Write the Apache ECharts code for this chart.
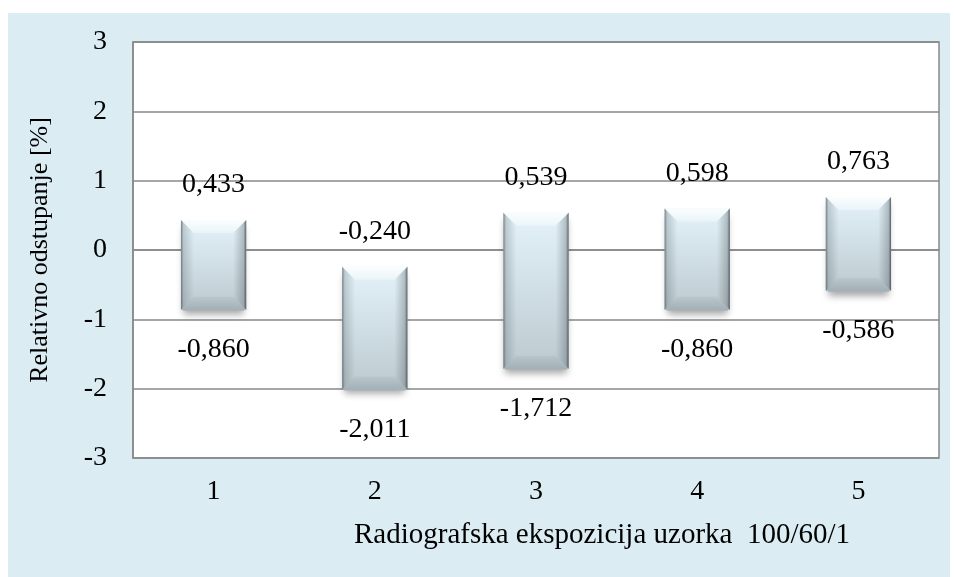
<!DOCTYPE html>
<html>
<head>
<meta charset="utf-8">
<script src="https://cdn.jsdelivr.net/npm/echarts@6/dist/echarts.min.js"></script>
<style>
  html, body { margin: 0; padding: 0; background: #ffffff; }
  #chart { width: 954px; height: 577px; }
</style>
</head>
<body>
<div id="chart"></div>
<script>
// Exposure samples and the min / max relative deviation per sample
const categories = ['1', '2', '3', '4', '5'];
const highValues = [0.433, -0.240, 0.539, 0.598, 0.763];
const lowValues = [-0.860, -2.011, -1.712, -0.860, -0.586];
const yTicks = { min: -3, max: 3, step: 1 };

const FONT = '"Liberation Serif", "Times New Roman", serif';
const fmt = v => v.toFixed(3).replace('.', ',');

const rangeData = categories.map((c, i) => [i, lowValues[i], highValues[i]]);

function renderRange(params, api) {
  const idx = api.value(0);
  const lo = api.value(1);
  const hi = api.value(2);
  const pTop = api.coord([idx, hi]);
  const pBot = api.coord([idx, lo]);
  const bw = api.size([1, 0])[0] * 0.405;
  const x0 = pTop[0] - bw / 2, x1 = pTop[0] + bw / 2;
  const y0 = pTop[1], y1 = pBot[1];
  const h = y1 - y0;
  const b = Math.min(13, h / 2, bw / 2);
  const lin = (a, c, d, e, stops) => new echarts.graphic.LinearGradient(a, c, d, e, stops);

  return {
    type: 'group',
    children: [
      // soft drop shadow under the block
      {
        type: 'rect',
        shape: { x: x0 + 2, y: y0 + 3, width: bw - 4, height: h - 2 },
        style: { fill: '#a7b2b6', shadowBlur: 7, shadowColor: 'rgba(0,0,0,0.35)', shadowOffsetY: 4 },
        z2: 1
      },
      // front face
      {
        type: 'rect',
        shape: { x: x0, y: y0, width: bw, height: h },
        style: { fill: lin(0, 0, 0, 1, [
          { offset: 0, color: '#e3f3f9' },
          { offset: 1, color: '#bccad0' }
        ]) },
        z2: 2
      },
      // top bevel (highlight)
      {
        type: 'polygon',
        shape: { points: [[x0, y0], [x1, y0], [x1 - b, y0 + b], [x0 + b, y0 + b]] },
        style: { fill: lin(0, 0, 0, 1, [
          { offset: 0, color: 'rgba(255,255,255,0.85)' },
          { offset: 1, color: 'rgba(255,255,255,0.35)' }
        ]) },
        z2: 3
      },
      // bottom bevel (shade)
      {
        type: 'polygon',
        shape: { points: [[x0, y1], [x1, y1], [x1 - b, y1 - b], [x0 + b, y1 - b]] },
        style: { fill: lin(0, 0, 0, 1, [
          { offset: 0, color: 'rgba(70,85,92,0.06)' },
          { offset: 1, color: 'rgba(70,85,92,0.22)' }
        ]) },
        z2: 3
      },
      // left bevel
      {
        type: 'polygon',
        shape: { points: [[x0, y0], [x0 + b, y0 + b], [x0 + b, y1 - b], [x0, y1]] },
        style: { fill: lin(0, 0, 1, 0, [
          { offset: 0, color: 'rgba(60,70,76,0.65)' },
          { offset: 0.2, color: 'rgba(60,70,76,0.22)' },
          { offset: 1, color: 'rgba(60,70,76,0.0)' }
        ]) },
        z2: 3
      },
      // right bevel
      {
        type: 'polygon',
        shape: { points: [[x1, y0], [x1 - b, y0 + b], [x1 - b, y1 - b], [x1, y1]] },
        style: { fill: lin(1, 0, 0, 0, [
          { offset: 0, color: 'rgba(50,58,64,0.78)' },
          { offset: 0.2, color: 'rgba(50,58,64,0.28)' },
          { offset: 1, color: 'rgba(50,58,64,0.0)' }
        ]) },
        z2: 3
      },
      // value labels
      {
        type: 'text',
        style: { text: fmt(hi), x: pTop[0], y: y0 - 35, align: 'center', verticalAlign: 'middle',
          font: '28px ' + FONT, fill: '#000' },
        z2: 5
      },
      {
        type: 'text',
        style: { text: fmt(lo), x: pTop[0], y: y1 + 40, align: 'center', verticalAlign: 'middle',
          font: '28px ' + FONT, fill: '#000' },
        z2: 5
      }
    ]
  };
}

const chart = echarts.init(document.getElementById('chart'), null, { renderer: 'canvas' });
chart.setOption({
  animation: false,
  backgroundColor: '#ffffff',
  textStyle: { fontFamily: FONT },
  graphic: [
    {
      type: 'rect',
      z: -10,
      shape: { x: 8, y: 13, width: 942, height: 570 },
      style: { fill: '#dbedf3' }
    },
    {
      type: 'rect',
      z: -9,
      shape: { x: 133, y: 42, width: 806, height: 416 },
      style: { fill: '#ffffff' }
    }
  ],
  grid: {
    left: 133, top: 42, right: 15, bottom: 119,
    show: true, borderColor: '#888888', borderWidth: 1.5, backgroundColor: 'transparent'
  },
  xAxis: {
    type: 'category',
    data: categories,
    boundaryGap: true,
    axisTick: { show: false },
    axisLine: { lineStyle: { color: '#888888', width: 1.5 } },
    axisLabel: { color: '#000', fontSize: 28, fontFamily: FONT, margin: 20 },
    name: 'Radiografska ekspozicija uzorka  100/60/1',
    nameLocation: 'middle',
    nameGap: 63,
    nameTextStyle: { color: '#000', fontSize: 29, fontFamily: FONT, padding: [0, 0, 0, 132] }
  },
  yAxis: {
    type: 'value',
    min: yTicks.min, max: yTicks.max, interval: yTicks.step,
    axisTick: { show: false },
    axisLine: { show: true, lineStyle: { color: '#888888', width: 1.5 } },
    splitLine: { lineStyle: { color: '#888888', width: 1.5 } },
    axisLabel: { color: '#000', fontSize: 28, fontFamily: FONT, margin: 26 },
    name: 'Relativno odstupanje [%]',
    nameLocation: 'middle',
    nameGap: 80,
    nameTextStyle: { color: '#000', fontSize: 26, fontFamily: FONT }
  },
  series: [{
    type: 'custom',
    renderItem: renderRange,
    data: rangeData,
    encode: { x: 0, y: [1, 2] },
    clip: false,
    z: 5
  }]
});
</script>
</body>
</html>
